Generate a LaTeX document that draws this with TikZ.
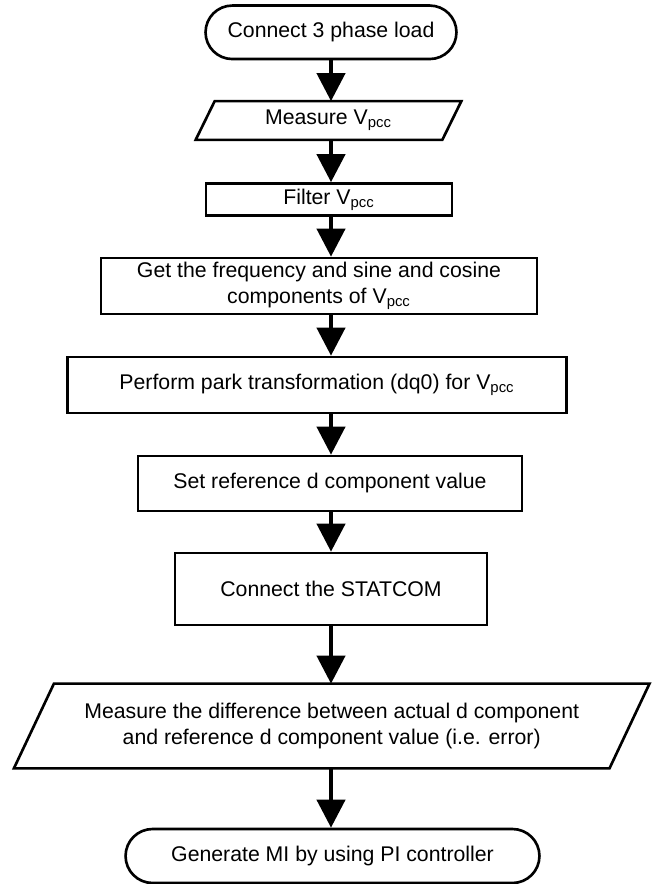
\documentclass[tikz,border=0pt]{standalone}
\usepackage{fontspec}
\setmainfont{Liberation Sans}
\usetikzlibrary{shapes.misc,arrows.meta}
\tikzset{
  border/.style={line width=1.5pt,line join=miter},
  box/.style={draw,border,align=center,inner sep=2pt},
  term/.style={box,rounded rectangle,rounded rectangle arc length=180},
  io/.style={align=center,inner sep=2pt},
  flow/.style={line width=2.4pt,-{Triangle[width=0.56cm,length=0.56cm]}}
}
\begin{document}
\begin{tikzpicture}[x=0.02cm,y=-0.02cm,
    font=\fontsize{12.1}{14.8}\selectfont]
  \useasboundingbox (0,0) rectangle (653,884);
  \def\ax{331}
  \node[term,minimum width=5.16cm,minimum height=1.07cm] (load) at (\ax,32.3)
    {Connect 3 phase load};
  \node[io,minimum width=4.92cm,minimum height=0.76cm] (meas) at (328.5,120.5)
    {Measure V\textsubscript{pcc}};
  \draw[border] ([xshift=-0.19cm]meas.south west) -- ([xshift=0.19cm]meas.north west)
    -- ([xshift=0.19cm]meas.north east) -- ([xshift=-0.19cm]meas.south east) -- cycle;
  \node[box,minimum width=4.92cm,minimum height=0.64cm] (filt) at (329,199.5)
    {Filter V\textsubscript{pcc}};
  \node[box,minimum width=8.72cm,minimum height=1.12cm] (freq) at (319,286)
    {Get the frequency and sine and cosine\\components of V\textsubscript{pcc}};
  \node[box,minimum width=9.99cm,minimum height=1.12cm] (park) at (317,385)
    {Perform park transformation (dq0) for V\textsubscript{pcc}};
  \node[box,minimum width=7.68cm,minimum height=1.1cm] (dref) at (330,483.5)
    {Set reference d component value};
  \node[box,minimum width=6.24cm,minimum height=1.44cm] (stat) at (331,589)
    {Connect the STATCOM};
  \node[io,minimum width=11.9cm,minimum height=1.68cm] (err) at (331.7,726)
    {Measure the difference between actual d component\\and reference d component value (i.e. error)};
  \draw[border] ([xshift=-0.4cm]err.south west) -- ([xshift=0.4cm]err.north west)
    -- ([xshift=0.4cm]err.north east) -- ([xshift=-0.4cm]err.south east) -- cycle;
  \node[term,minimum width=8.42cm,minimum height=1.08cm] (mi) at (332.5,856)
    {Generate MI by using PI controller};
  \path (\ax,0) coordinate (X);
  \draw[flow] (load.south -| X) -- (meas.north -| X);
  \draw[flow] (meas.south -| X) -- (filt.north -| X);
  \draw[flow] (filt.south -| X) -- (freq.north -| X);
  \draw[flow] (freq.south -| X) -- (park.north -| X);
  \draw[flow] (park.south -| X) -- (dref.north -| X);
  \draw[flow] (dref.south -| X) -- (stat.north -| X);
  \draw[flow] (stat.south -| X) -- (err.north -| X);
  \draw[flow] (err.south -| X) -- (mi.north -| X);
\end{tikzpicture}
\end{document}
